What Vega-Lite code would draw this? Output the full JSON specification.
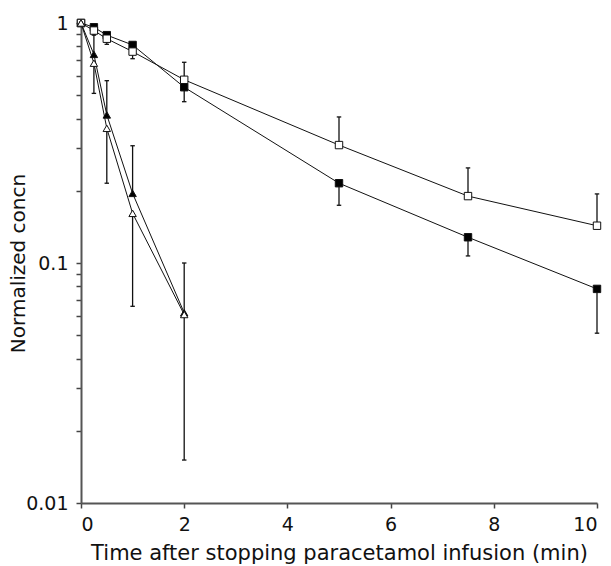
{
  "$schema": "https://vega.github.io/schema/vega-lite/v6.json",
  "width": 516,
  "height": 480,
  "autosize": "none",
  "padding": {"left": 81, "top": 23, "right": 14, "bottom": 63},
  "background": "white",
  "config": {
    "view": {"stroke": null},
    "font": "DejaVu Sans",
    "axis": {
      "grid": false,
      "domainColor": "#555555",
      "domainWidth": 2,
      "tickColor": "#444444",
      "tickWidth": 1.5,
      "tickSize": 5,
      "labelFont": "DejaVu Sans",
      "labelFontSize": 19,
      "labelColor": "#111111",
      "titleFont": "DejaVu Sans",
      "titleFontSize": 21,
      "titleFontWeight": "normal",
      "titleColor": "#111111"
    }
  },
  "data": {
    "values": [
      {"series": "sq_filled", "t": 0, "v": 1.0, "err": null},
      {"series": "sq_filled", "t": 0.25, "v": 0.96, "err": 0.89},
      {"series": "sq_filled", "t": 0.5, "v": 0.89, "err": null},
      {"series": "sq_filled", "t": 1, "v": 0.81, "err": 0.71},
      {"series": "sq_filled", "t": 2, "v": 0.54, "err": 0.47},
      {"series": "sq_filled", "t": 5, "v": 0.215, "err": 0.174},
      {"series": "sq_filled", "t": 7.5, "v": 0.128, "err": 0.107},
      {"series": "sq_filled", "t": 10, "v": 0.078, "err": 0.051},
      {"series": "sq_open", "t": 0, "v": 1.0, "err": null},
      {"series": "sq_open", "t": 0.25, "v": 0.93, "err": null},
      {"series": "sq_open", "t": 0.5, "v": 0.86, "err": 0.815},
      {"series": "sq_open", "t": 1, "v": 0.76, "err": 0.83},
      {"series": "sq_open", "t": 2, "v": 0.58, "err": 0.686},
      {"series": "sq_open", "t": 5, "v": 0.31, "err": 0.406},
      {"series": "sq_open", "t": 7.5, "v": 0.19, "err": 0.249},
      {"series": "sq_open", "t": 10, "v": 0.143, "err": 0.194},
      {"series": "tri_filled", "t": 0, "v": 1.0, "err": null},
      {"series": "tri_filled", "t": 0.25, "v": 0.74, "err": 0.9},
      {"series": "tri_filled", "t": 0.5, "v": 0.414, "err": 0.575},
      {"series": "tri_filled", "t": 1, "v": 0.195, "err": 0.308},
      {"series": "tri_filled", "t": 2, "v": 0.062, "err": 0.1},
      {"series": "tri_open", "t": 0, "v": 1.0, "err": null},
      {"series": "tri_open", "t": 0.25, "v": 0.68, "err": 0.509},
      {"series": "tri_open", "t": 0.5, "v": 0.364, "err": 0.215},
      {"series": "tri_open", "t": 1, "v": 0.161, "err": 0.066},
      {"series": "tri_open", "t": 2, "v": 0.061, "err": 0.0151}
    ]
  },
  "encoding": {
    "x": {
      "field": "t",
      "type": "quantitative",
      "scale": {"domain": [0, 10], "nice": false},
      "axis": {
        "title": "Time after stopping paracetamol infusion (min)",
        "values": [0, 2, 4, 6, 8, 10],
        "labelPadding": 7,
        "titlePadding": 8
      }
    },
    "y": {
      "field": "v",
      "type": "quantitative",
      "scale": {"type": "log", "domain": [0.01, 1], "nice": false},
      "axis": {
        "title": "Normalized concn",
        "titleFontSize": 20,
        "values": [0.01, 0.02, 0.03, 0.04, 0.05, 0.06, 0.07, 0.08, 0.09, 0.1, 0.2, 0.3, 0.4, 0.5, 0.6, 0.7, 0.8, 0.9, 1],
        "labelExpr": "datum.value == 1 ? '1' : (abs(datum.value - 0.1) < 1e-9 ? '0.1' : (abs(datum.value - 0.01) < 1e-9 ? '0.01' : ''))",
        "labelPadding": 8,
        "titlePadding": -3
      }
    }
  },
  "layer": [
    {
      "mark": {"type": "line", "color": "#111111", "strokeWidth": 1},
      "encoding": {"detail": {"field": "series"}}
    },
    {
      "transform": [{"filter": "datum.err != null"}],
      "mark": {"type": "rule", "color": "#111111", "strokeWidth": 1.3},
      "encoding": {"y2": {"field": "err"}}
    },
    {
      "transform": [{"filter": "datum.err != null"}],
      "mark": {"type": "point", "shape": "M -1 0 L 1 0", "filled": false, "stroke": "#111111", "strokeWidth": 1.3, "size": 20, "opacity": 1},
      "encoding": {"y": {"field": "err", "type": "quantitative"}}
    },
    {
      "mark": {"type": "point", "filled": true, "stroke": "#111111", "strokeWidth": 1, "opacity": 1, "size": 55},
      "encoding": {
        "shape": {
          "field": "series",
          "type": "nominal",
          "scale": {"domain": ["sq_filled", "sq_open", "tri_filled", "tri_open"], "range": ["square", "square", "triangle-up", "triangle-up"]},
          "legend": null
        },
        "fill": {
          "field": "series",
          "type": "nominal",
          "scale": {"domain": ["sq_filled", "sq_open", "tri_filled", "tri_open"], "range": ["#000000", "#ffffff", "#000000", "#ffffff"]},
          "legend": null
        }
      }
    }
  ]
}
